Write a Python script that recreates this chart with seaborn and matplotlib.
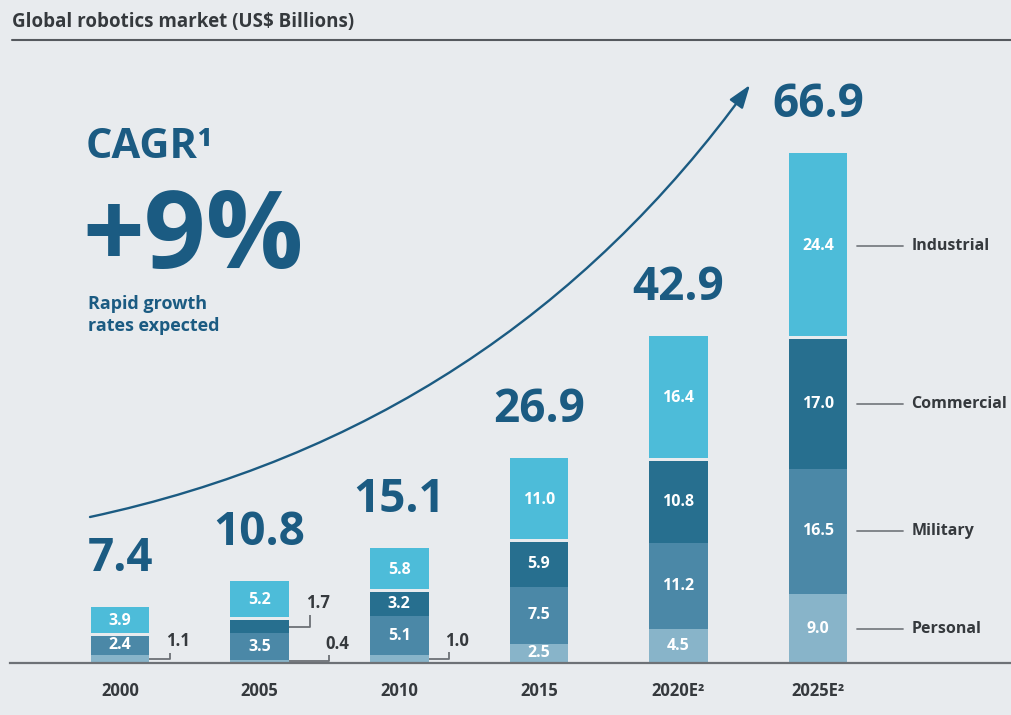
import numpy as np
import pandas as pd
import seaborn as sns
import matplotlib.pyplot as plt
from matplotlib.patches import FancyArrowPatch
from matplotlib.lines import Line2D
from matplotlib.path import Path

# data (US$ billions)
years = ["2000", "2005", "2010", "2015", "2020E²", "2025E²"]
personal = [1.1, 0.4, 1.0, 2.5, 4.5, 9.0]
military = [2.4, 3.5, 5.1, 7.5, 11.2, 16.5]
commercial = [0.0, 1.7, 3.2, 5.9, 10.8, 17.0]
industrial = [3.9, 5.2, 5.8, 11.0, 16.4, 24.4]
totals = [7.4, 10.8, 15.1, 26.9, 42.9, 66.9]
segments = ["Personal", "Military", "Commercial", "Industrial"]

bg = "#e8ebee"
navy = "#1b5b82"
dark = "#35393d"
colors = {
    "Personal": "#88b4c9",
    "Military": "#4b88a7",
    "Commercial": "#276f8f",
    "Industrial": "#4dbcd9",
}

sns.set_theme(style="white")
plt.rcParams["font.family"] = ["Open Sans", "DejaVu Sans"]

df = pd.DataFrame({"year": years, "Personal": personal, "Military": military,
                   "Commercial": commercial, "Industrial": industrial})

fig = plt.figure(figsize=(10.12, 7.15), dpi=100, facecolor=bg)
ax = fig.add_axes([10 / 1012, 52 / 715, 1000 / 1012, 603 / 715])
ax.set_facecolor(bg)

half = 0.21
gap = 0.4
bottom = np.zeros(len(years))
for seg in segments:
    vals = df[seg].to_numpy()
    if seg == "Industrial":
        # white gap between commercial and industrial
        plot_df = df.assign(h=vals - gap)
        b = bottom + gap
    else:
        plot_df = df.assign(h=vals)
        b = bottom
    sns.barplot(data=plot_df, x="year", y="h", color=colors[seg], width=2 * half,
                saturation=1, errorbar=None, bottom=b, linewidth=0, ax=ax)
    for i, v in enumerate(vals):
        if v >= 2.0:
            ax.text(i, bottom[i] + v / 2, f"{v:.1f}", ha="center", va="center",
                    color="white", fontsize=11.5, fontweight="bold")
    bottom = bottom + vals

# callouts for thin segments
callouts = [(0, "Personal", 0.15, 0.8), (1, "Commercial", 0.15, 1.6),
            (1, "Personal", 0.29, 0.8), (2, "Personal", 0.15, 0.9)]
for i, seg, length, rise in callouts:
    idx = segments.index(seg)
    base = sum(df[s][i] for s in segments[:idx])
    v = df[seg][i]
    mid = base + v / 2
    x0 = i + half
    x1 = x0 + length
    ax.plot([x0, x1, x1], [mid, mid, mid + rise], color="#6d7176", lw=1.3,
            solid_capstyle="butt")
    ax.text(x1 - 0.03, mid + rise + 0.3, f"{v:.1f}", ha="left", va="bottom",
            color=dark, fontsize=12, fontweight="bold")

# totals above the bars
for i, t in enumerate(totals):
    ax.annotate(f"{t:.1f}", (i, t), xytext=(0, 18), textcoords="offset points",
                ha="center", va="bottom", fontsize=33, fontweight="bold", color=navy)

# segment names beside the last bar
last = len(years) - 1
base = 0
for seg in segments:
    v = df[seg][last]
    mid = base + v / 2
    ax.plot([last + 0.28, last + 0.61], [mid, mid], color="#7a7e83", lw=1.3)
    ax.text(last + 0.67, mid, seg, ha="left", va="center", fontsize=11.5,
            fontweight="bold", color=dark)
    base += v

ax.set_xlim(-0.788, 6.375)
ax.set_ylim(0, 79.1)
ax.set_yticks([])
ax.set_xlabel("")
ax.set_ylabel("")
ax.tick_params(axis="x", length=0, pad=14)
for lab in ax.get_xticklabels():
    lab.set_fontsize(12)
    lab.set_fontweight("bold")
    lab.set_color(dark)
for side in ["top", "left", "right"]:
    ax.spines[side].set_visible(False)
ax.spines["bottom"].set_color("#6d7176")
ax.spines["bottom"].set_linewidth(1.6)

# header
fig.text(12 / 1012, 1 - 22 / 715, "Global robotics market (US$ Billions)",
         ha="left", va="center", fontsize=13.5, fontweight="bold", color=dark)
fig.add_artist(Line2D([12 / 1012, 1], [1 - 40 / 715, 1 - 40 / 715],
                      transform=fig.transFigure, color="#55595e", lw=1.5))

# CAGR block
fig.text(86 / 1012, 1 - 148 / 715, "CAGR¹", ha="left", va="center",
         fontsize=30, fontweight="bold", color=navy)
fig.text(82 / 1012, 1 - 240 / 715, "+9%", ha="left", va="center",
         fontsize=78, fontweight="bold", color=navy)
fig.text(88 / 1012, 1 - 315 / 715, "Rapid growth\nrates expected", ha="left",
         va="center", fontsize=13, fontweight="bold", color=navy, linespacing=1.35)

# growth arrow (quadratic curve)
curve = Path([(90 / 1012, 1 - 517 / 715), (501 / 1012, 1 - 429 / 715),
              (750 / 1012, 1 - 85 / 715)],
             [Path.MOVETO, Path.CURVE3, Path.CURVE3])
arrow = FancyArrowPatch(path=curve, transform=fig.transFigure,
                        arrowstyle="-|>,head_length=1.0,head_width=0.35",
                        mutation_scale=14, color=navy, lw=1.7)
fig.add_artist(arrow)

fig.savefig("out.png", dpi=100, facecolor=bg)
